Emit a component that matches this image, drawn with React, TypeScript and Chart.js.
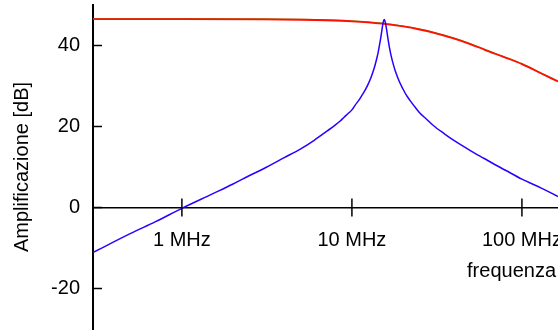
import { useEffect, useRef } from 'react';
import { Chart, registerables } from 'chart.js';

Chart.register(...registerables);

// Frequencies in Hz, gains in dB
const blueFreqHz = [3e5, 5e5, 7e5, 1e6, 1.5e6, 2e6, 2.5e6, 3e6, 4e6, 5e6, 6e6, 7e6, 8e6, 8.5e6, 9e6, 9.5e6, 1e7, 1.05e7, 1.1e7, 1.15e7, 1.2e7, 1.25e7, 1.3e7, 1.35e7, 1.375e7, 1.4e7, 1.425e7, 1.45e7, 1.475e7, 1.5e7, 1.525e7, 1.55e7, 1.575e7, 1.6e7, 1.625e7, 1.65e7, 1.675e7, 1.7e7, 1.75e7, 1.8e7, 1.9e7, 2e7, 2.1e7, 2.2e7, 2.35e7, 2.5e7, 2.75e7, 3e7, 3.5e7, 4e7, 5e7, 6e7, 7e7, 8e7, 1e8, 1.3e8, 1.63e8];
const blueDb = [-11.1, -6.4, -3.5, -0.2, 3.3, 5.8, 7.9, 9.5, 12.3, 14.5, 16.6, 18.6, 20.4, 21.3, 22.3, 23.2, 24.1, 25.4, 26.5, 27.8, 29.1, 30.6, 32.3, 34.3, 35.5, 36.8, 38.2, 39.9, 41.7, 43.7, 45.6, 46.4, 45.6, 43.9, 42.0, 40.3, 38.8, 37.5, 35.4, 33.7, 31.1, 29.2, 27.6, 26.4, 24.8, 23.4, 21.8, 20.3, 18.2, 16.5, 14.0, 12.1, 10.5, 9.2, 7.0, 4.8, 2.7];

const redFreqHz = [3e5, 1e6, 3e6, 5e6, 7e6, 1e7, 1.5e7, 2e7, 2.5e7, 3e7, 4e7, 5e7, 6e7, 7e7, 8.5e7, 1e8, 1.3e8, 1.63e8];
const redDb = [46.5, 46.5, 46.45, 46.36, 46.24, 45.98, 45.4, 44.7, 43.95, 43.2, 41.7, 40.3, 39.0, 37.9, 36.6, 35.4, 33.1, 31.1];
const greenDb = [46.62, 46.62, 46.57, 46.48, 46.36, 46.1, 45.52, 44.82, 44.07, 43.32, 41.82, 40.42, 39.12, 38.02, 36.72, 35.52, 33.22, 31.22];

const xTickValues = [1e6, 1e7, 1e8];
const xTickLabels = ['1 MHz', '10 MHz', '100 MHz'];
const yTickValues = [-20, 0, 20, 40];
const xTitle = 'frequenza';
const yTitle = 'Amplificazione [dB]';

const FONT = "'Liberation Sans', Arial, sans-serif";

const decor = {
  id: 'decor',
  afterDraw(chart: any) {
    const ctx = chart.ctx;
    const xs = chart.scales.x;
    const ys = chart.scales.y;
    const a = chart.chartArea;
    const y0 = ys.getPixelForValue(0);
    ctx.save();
    ctx.strokeStyle = '#000';
    ctx.lineWidth = 1.5;
    for (const v of yTickValues) {
      const py = ys.getPixelForValue(v);
      ctx.beginPath();
      ctx.moveTo(a.left, py);
      ctx.lineTo(a.left + 9, py);
      ctx.stroke();
    }
    for (const v of xTickValues) {
      const px = xs.getPixelForValue(v);
      ctx.beginPath();
      ctx.moveTo(px, y0 - 9);
      ctx.lineTo(px, y0 + 9);
      ctx.stroke();
    }
    ctx.fillStyle = '#000';
    ctx.font = `20px ${FONT}`;
    ctx.textAlign = 'right';
    ctx.textBaseline = 'alphabetic';
    ctx.fillText(xTitle, a.right - 2, y0 + 69);
    ctx.translate(27.5, (a.top + a.bottom) / 2);
    ctx.rotate(-Math.PI / 2);
    ctx.textAlign = 'center';
    ctx.fillText(yTitle, 0, 0);
    ctx.restore();
  },
};

export default function App() {
  const ref = useRef<HTMLCanvasElement | null>(null);
  useEffect(() => {
    if (!ref.current) return;
    const chart = new Chart(ref.current, {
      type: 'line',
      data: {
        datasets: [
          {
            data: blueFreqHz.map((f, i) => ({ x: f, y: blueDb[i] })),
            borderColor: '#2a00ff',
            borderWidth: 1.5,
            pointRadius: 0,
            cubicInterpolationMode: 'monotone',
          },
          {
            data: redFreqHz.map((f, i) => ({ x: f, y: redDb[i] })),
            borderColor: '#ff1000',
            borderWidth: 1.8,
            pointRadius: 0,
            cubicInterpolationMode: 'monotone',
          },
          {
            data: redFreqHz.map((f, i) => ({ x: f, y: greenDb[i] })),
            borderColor: '#7a9a20',
            borderWidth: 1.2,
            pointRadius: 0,
            cubicInterpolationMode: 'monotone',
          },
        ],
      },
      options: {
        animation: false,
        responsive: true,
        maintainAspectRatio: false,
        layout: { padding: { top: 5, bottom: 2, left: 0, right: 0 } },
        plugins: { legend: { display: false }, tooltip: { enabled: false }, title: { display: false } },
        events: [],
        scales: {
          x: {
            type: 'logarithmic',
            min: 3e5,
            max: 1.63e8,
            position: { y: 0 } as any,
            grid: { display: false, drawTicks: false },
            border: { display: true, color: '#000', width: 1.5 },
            afterBuildTicks: (scale: any) => {
              scale.ticks = xTickValues.map((v) => ({ value: v }));
            },
            afterFit: (scale: any) => {
              scale.paddingLeft = 0;
              scale.paddingRight = 0;
              scale.paddingTop = 0;
              scale.paddingBottom = 0;
            },
            ticks: {
              autoSkip: false,
              maxRotation: 0,
              minRotation: 0,
              padding: 21,
              color: '#000',
              font: { size: 20, family: FONT },
              callback: (v: any) => {
                const i = xTickValues.indexOf(Number(v));
                return i >= 0 ? xTickLabels[i] : '';
              },
            },
          },
          y: {
            type: 'linear',
            min: -30,
            max: 50,
            position: 'left',
            grid: { display: false, drawTicks: false },
            border: { display: true, color: '#000', width: 2 },
            afterBuildTicks: (scale: any) => {
              scale.ticks = yTickValues.map((v) => ({ value: v }));
            },
            afterFit: (scale: any) => {
              scale.width = 93;
              scale.paddingTop = 0;
              scale.paddingBottom = 0;
            },
            ticks: {
              padding: 13,
              color: '#000',
              font: { size: 20, family: FONT },
              callback: (v: any) => String(v),
            },
          },
        },
      },
      plugins: [decor],
    } as any);
    return () => chart.destroy();
  }, []);
  return (
    <div style={{ position: 'fixed', left: 0, top: 0, width: 558, height: 331, background: '#fff' }}>
      <canvas ref={ref} />
    </div>
  );
}
